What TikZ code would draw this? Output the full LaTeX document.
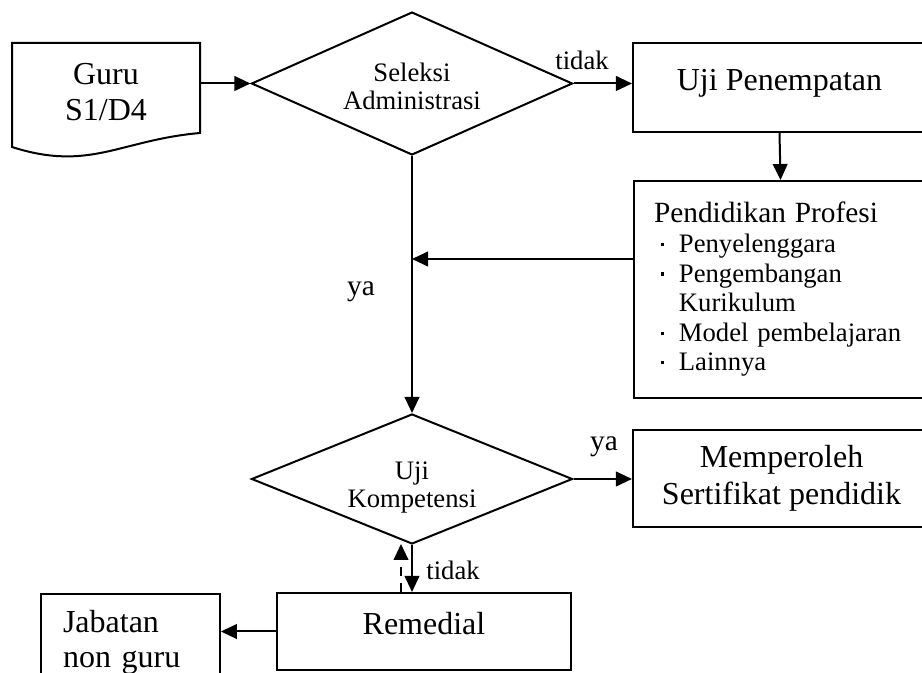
\documentclass[tikz,border=0pt]{standalone}
\usepackage{fontspec}
\setmainfont{Liberation Serif}
\usepackage{tikz}
\usetikzlibrary{positioning,shapes.geometric,arrows.meta}

\newcommand{\butir}{\hspace*{2.6pt}\makebox[6.75pt][l]{\rule[0.25em]{1.2pt}{1.2pt}}}

\begin{document}
\begin{tikzpicture}[x=0.375pt, y=-0.375pt,
    garis/.style={line width=0.75pt},
    panah/.style={line width=0.75pt, -{Triangle[length=6pt,width=5.5pt]}},
    kotak/.style={draw, line width=0.75pt, inner sep=0pt, align=center, font=\fontsize{12}{13.8}\selectfont},
    belah/.style={draw, diamond, line width=0.75pt, inner sep=0pt, shape aspect=2.25, align=center, font=\fontsize{10}{10.5}\selectfont},
    ket/.style={inner sep=0pt, font=\fontsize{10}{12}\selectfont}]
        \useasboundingbox (0,0) rectangle (922,673);

        % Guru (document shape)
        \draw[garis] (12,43) -- (200,43) -- (200,133) .. controls (120,140) and (90,172) .. (12,147) -- cycle;
        \node[inner sep=0pt, minimum width=70.5pt, align=center, font=\fontsize{12}{13.2}\selectfont] (guru) at (106,92) {Guru\\S1/D4};

        % Decisions
        \node[belah, minimum width=120.4pt, minimum height=53.6pt] (sel) at (412,83.5) {\rule{0pt}{9pt}Seleksi\\Administrasi};
        \node[belah, minimum width=120.4pt, minimum height=48.75pt] (kom) at (412,479) {\rule{0pt}{13pt}Uji\\Kompetensi};

        % Boxes
        \node[kotak, minimum width=109.9pt, minimum height=33.4pt, text depth=6pt] (uji) at (779.5,87.5) {Uji Penempatan};
        \node[draw, line width=0.75pt, anchor=north west, text width=94.9pt, minimum height=81.4pt,
              inner xsep=7.5pt, inner ysep=0pt, align=left, font=\fontsize{10}{11.1}\selectfont] (pend) at (633,180)
              {{\fontsize{11}{11.6}\selectfont Pendidikan Profesi}\\
               \butir Penyelenggara\\
               \butir Pengembangan\\
               \hspace*{9.35pt}Kurikulum\\
               \butir Model pembelajaran\\
               \butir Lainnya};
        \node[kotak, minimum width=111.4pt, minimum height=36.4pt] (sert) at (781.5,478.5) {Memperoleh\\Sertifikat pendidik};
        \node[kotak, minimum width=110.25pt, minimum height=28.9pt, text depth=6pt] (rem) at (424,631.5) {Remedial};
        \node[draw, line width=0.75pt, anchor=north west, text width=50.6pt, inner xsep=8.25pt, inner ysep=6pt,
              align=left, font=\fontsize{12}{13.3}\selectfont] (jab) at (40,593) {Jabatan\\non guru};

        % Labels
        \node[ket] (tidak1) at (582,60) {tidak};
        \node[ket, font=\fontsize{11}{13}\selectfont] (ya1) at (361,292) {ya};
        \node[ket, font=\fontsize{11}{13}\selectfont] (ya2) at (604,447) {ya};
        \node[ket] (tidak2) at (453,570) {tidak};

        % Connectors
        \coordinate (gabung) at (412,259);
        \coordinate (balik) at (401,544);
        \draw[panah] (guru.east |- sel.west) -- (sel.west);
        \draw[panah] (sel.east) -- (sel.east -| uji.west);
        \draw[panah] (uji.south) -- (pend.north);
        \draw[panah] (pend.west |- gabung) -- (gabung);
        \draw[panah] (sel.south) -- (kom.north);
        \draw[panah] (kom.east) -- (kom.east -| sert.west);
        \draw[panah] (kom.south) -- (kom.south |- rem.north);
        \draw[panah, dash pattern=on 3.5pt off 2.5pt] (balik |- rem.north) -- (balik);
        \draw[panah] (rem.west) -- (rem.west -| jab.east);
    \end{tikzpicture}
\end{document}
